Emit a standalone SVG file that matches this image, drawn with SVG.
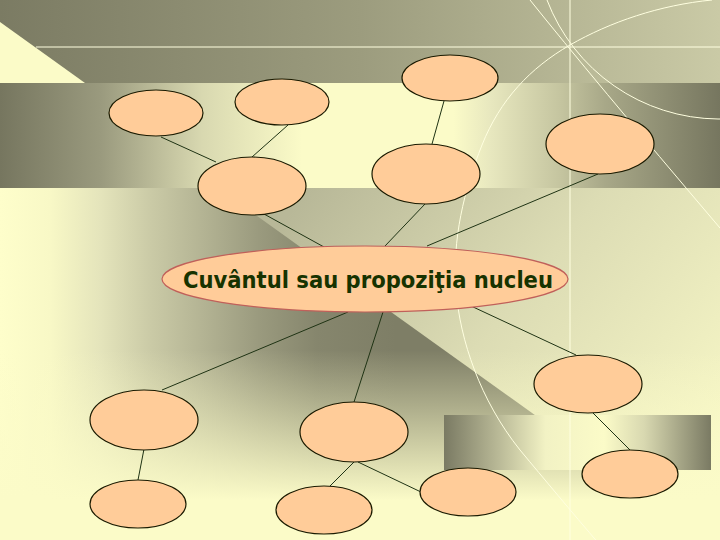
<svg xmlns="http://www.w3.org/2000/svg" width="720" height="540" viewBox="0 0 720 540">
<style>
.node{fill:#ffcc99;stroke:#1a1a00;stroke-width:1.2}
.core{fill:#ffcc99;stroke:#c0605a;stroke-width:1.2}
.wl{fill:none;stroke:#ffffe0;stroke-width:1}
#connectors line{stroke:#1f3314;stroke-width:1}
.lbl{font-family:"DejaVu Sans","Liberation Sans",sans-serif;font-weight:bold;font-size:23.5px;fill:#173300}
</style>
<defs>
<linearGradient id="gTop" x1="0" y1="0" x2="720" y2="0" gradientUnits="userSpaceOnUse">
<stop offset="0" stop-color="#7b7b63"/><stop offset="0.5" stop-color="#9c9c7e"/><stop offset="1" stop-color="#cacaa6"/>
</linearGradient>
<linearGradient id="gMid" x1="0" y1="0" x2="720" y2="0" gradientUnits="userSpaceOnUse">
<stop offset="0" stop-color="#76765f"/><stop offset="0.14" stop-color="#9a9a7e"/><stop offset="0.28" stop-color="#d8d8b0"/><stop offset="0.42" stop-color="#fbfbc8"/><stop offset="0.63" stop-color="#fbfbc8"/><stop offset="0.68" stop-color="#e8e8bf"/><stop offset="0.78" stop-color="#c4c49f"/><stop offset="0.84" stop-color="#a8a888"/><stop offset="1" stop-color="#76765f"/>
</linearGradient>
<linearGradient id="gBR" x1="444" y1="0" x2="711" y2="0" gradientUnits="userSpaceOnUse">
<stop offset="0" stop-color="#7a7a63"/><stop offset="0.2" stop-color="#b8b896"/><stop offset="0.38" stop-color="#f2f2c4"/><stop offset="0.6" stop-color="#fbfbc8"/><stop offset="0.75" stop-color="#d8d8b0"/><stop offset="1" stop-color="#7a7a63"/>
</linearGradient>
<linearGradient id="gRight" x1="300" y1="200" x2="700" y2="520" gradientUnits="userSpaceOnUse">
<stop offset="0" stop-color="#b8b898"/><stop offset="0.45" stop-color="#dcdcb4"/><stop offset="1" stop-color="#fafac8"/>
</linearGradient>
<linearGradient id="gWedge" x1="0" y1="0" x2="720" y2="0" gradientUnits="userSpaceOnUse">
<stop offset="0" stop-color="#fefecb"/><stop offset="0.07" stop-color="#f8f8c6"/><stop offset="0.14" stop-color="#e4e4bb"/><stop offset="0.21" stop-color="#cacaa6"/><stop offset="0.28" stop-color="#b4b494"/><stop offset="0.36" stop-color="#9a9a7e"/><stop offset="0.44" stop-color="#86866d"/><stop offset="0.55" stop-color="#7e7e66"/><stop offset="1" stop-color="#7e7e66"/>
</linearGradient>
<linearGradient id="gFade" x1="0" y1="350" x2="0" y2="500" gradientUnits="userSpaceOnUse">
<stop offset="0" stop-color="#fbfbc8" stop-opacity="0"/><stop offset="1" stop-color="#fbfbc8" stop-opacity="1"/>
</linearGradient>
</defs>
<g id="background">
<rect x="0" y="0" width="720" height="540" fill="#fbfbc8"/>
<polygon points="0,0 720,0 720,83 85,83 0,22" fill="url(#gTop)"/>
<rect x="0" y="188" width="720" height="352" fill="url(#gRight)"/>
<polygon points="0,188 218,188 740,562 0,562" fill="url(#gWedge)"/>
<rect x="0" y="350" width="720" height="190" fill="url(#gFade)"/>
<rect x="0" y="83" width="720" height="105" fill="url(#gMid)"/>
<rect x="444" y="415" width="267" height="55" fill="url(#gBR)"/>
<line class="wl" x1="36" y1="47" x2="720" y2="47"/>
<line class="wl" x1="570" y1="0" x2="570" y2="540"/>
<path class="wl" d="M712,0 C660,5 610,22 570,45 C530,68 500,100 482,145 C464,190 452,240 456,290 C460,340 480,400 520,450 C545,480 570,510 600,545"/>
<path class="wl" d="M547,0 A185 185 0 0 0 718,119 L720,119"/>
<path class="wl" d="M530,0 Q590,75 720,228"/>
</g>
<g id="connectors">
<line x1="161" y1="137" x2="216" y2="162"/>
<line x1="288" y1="125" x2="252" y2="157"/>
<line x1="444" y1="101" x2="432" y2="144"/>
<line x1="598" y1="174" x2="427" y2="246"/>
<line x1="264" y1="214" x2="324" y2="247"/>
<line x1="425" y1="204" x2="385" y2="246"/>
<line x1="348" y1="312" x2="162" y2="390"/>
<line x1="383" y1="312" x2="354" y2="402"/>
<line x1="471" y1="306" x2="576" y2="355"/>
<line x1="144" y1="449" x2="138" y2="480"/>
<line x1="354" y1="462" x2="330" y2="486"/>
<line x1="358" y1="462" x2="421" y2="492"/>
<line x1="593" y1="413" x2="630" y2="450"/>
</g>
<g id="n1"><ellipse class="node" cx="156" cy="113" rx="47" ry="23"/></g>
<g id="n2"><ellipse class="node" cx="282" cy="102" rx="47" ry="23"/></g>
<g id="n3"><ellipse class="node" cx="450" cy="78" rx="48" ry="23"/></g>
<g id="n4"><ellipse class="node" cx="600" cy="144" rx="54" ry="30"/></g>
<g id="n5"><ellipse class="node" cx="252" cy="186" rx="54" ry="29"/></g>
<g id="n6"><ellipse class="node" cx="426" cy="174" rx="54" ry="30"/></g>
<g id="core"><ellipse class="core" cx="365" cy="279" rx="203" ry="33"/>
<text class="lbl" x="368" y="288" text-anchor="middle" textLength="370" lengthAdjust="spacingAndGlyphs">Cuvântul sau propoziţia nucleu</text></g>
<g id="n7"><ellipse class="node" cx="588" cy="384" rx="54" ry="29"/></g>
<g id="n8"><ellipse class="node" cx="144" cy="420" rx="54" ry="30"/></g>
<g id="n9"><ellipse class="node" cx="138" cy="504" rx="48" ry="24"/></g>
<g id="n10"><ellipse class="node" cx="354" cy="432" rx="54" ry="30"/></g>
<g id="n11"><ellipse class="node" cx="324" cy="510" rx="48" ry="24"/></g>
<g id="n12"><ellipse class="node" cx="468" cy="492" rx="48" ry="24"/></g>
<g id="n13"><ellipse class="node" cx="630" cy="474" rx="48" ry="24"/></g>
</svg>
